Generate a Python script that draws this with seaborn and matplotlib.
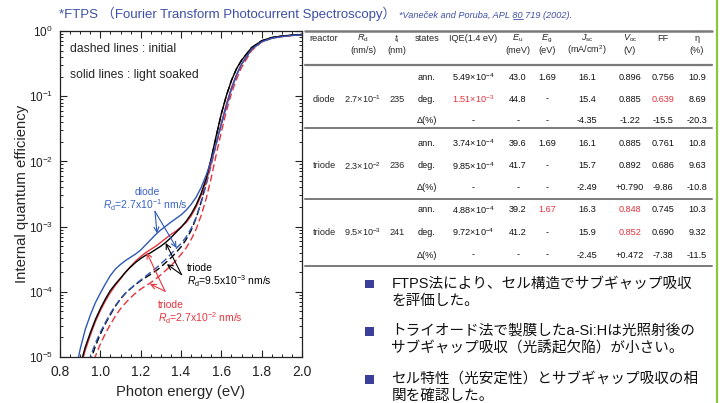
import matplotlib
matplotlib.use("Agg")
import matplotlib.pyplot as plt
import seaborn as sns
from matplotlib.ticker import LogLocator, MultipleLocator, NullFormatter
from matplotlib.patches import Rectangle
from matplotlib.lines import Line2D

# ---------------- data: IQE spectra ----------------
energy = [0.850, 0.875, 0.900, 0.925, 0.950, 0.975, 1.000, 1.025, 1.050, 1.075,
          1.100, 1.125, 1.150, 1.175, 1.200, 1.225, 1.250, 1.275, 1.300, 1.325,
          1.350, 1.375, 1.400, 1.425, 1.450, 1.475, 1.500, 1.525, 1.550, 1.575,
          1.600, 1.625, 1.650, 1.675, 1.700, 1.750, 1.800, 1.850, 1.900, 1.950, 2.000]

# diode, Rd = 2.7e-1 nm/s
diode_soaked = [2.51e-6, 5.62e-6, 1.32e-5, 2.63e-5, 4.37e-5, 6.76e-5, 9.55e-5, 1.32e-4, 1.78e-4, 2.24e-4,
                2.63e-4, 3.02e-4, 3.39e-4, 3.80e-4, 4.37e-4, 5.25e-4, 6.31e-4, 7.59e-4, 8.91e-4, 1.02e-3,
                1.17e-3, 1.33e-3, 1.51e-3, 1.78e-3, 2.19e-3, 2.82e-3, 3.98e-3, 6.17e-3, 1.02e-2, 1.91e-2,
                3.72e-2, 7.08e-2, 0.129, 0.209, 0.309, 0.525, 0.684, 0.776, 0.822, 0.855, 0.875]
diode_initial_energy = energy[2:]
diode_initial = [2.00e-6, 4.68e-6, 1.00e-5, 1.62e-5, 2.40e-5, 3.39e-5, 4.68e-5, 6.17e-5, 7.76e-5, 9.55e-5,
                 1.12e-4, 1.32e-4, 1.51e-4, 1.74e-4, 2.00e-4, 2.29e-4, 2.69e-4, 3.16e-4, 3.80e-4, 4.57e-4,
                 5.49e-4, 6.92e-4, 9.33e-4, 1.38e-3, 2.34e-3, 4.37e-3, 8.91e-3, 1.82e-2, 3.63e-2, 7.08e-2,
                 0.129, 0.209, 0.309, 0.525, 0.684, 0.776, 0.822, 0.855, 0.875]

# triode, Rd = 2.3e-2 nm/s (red)
triodeA_soaked = [1.26e-6, 2.82e-6, 6.61e-6, 1.26e-5, 2.14e-5, 3.47e-5, 5.13e-5, 7.24e-5, 9.77e-5, 1.26e-4,
                  1.58e-4, 2.00e-4, 2.45e-4, 2.95e-4, 3.47e-4, 3.98e-4, 4.47e-4, 5.01e-4, 5.75e-4, 6.61e-4,
                  7.59e-4, 8.51e-4, 9.85e-4, 1.15e-3, 1.45e-3, 2.00e-3, 3.02e-3, 5.01e-3, 9.33e-3, 1.91e-2,
                  3.89e-2, 7.59e-2, 0.135, 0.214, 0.309, 0.525, 0.687, 0.780, 0.826, 0.857, 0.877]
triodeA_initial_energy = energy[3:]
triodeA_initial = [3.16e-6, 5.62e-6, 1.02e-5, 1.58e-5, 2.29e-5, 3.16e-5, 4.27e-5, 5.50e-5, 6.76e-5, 8.13e-5,
                   9.55e-5, 1.10e-4, 1.23e-4, 1.38e-4, 1.58e-4, 1.82e-4, 2.14e-4, 2.51e-4, 3.02e-4, 3.74e-4,
                   4.68e-4, 6.31e-4, 9.12e-4, 1.48e-3, 2.69e-3, 5.62e-3, 1.29e-2, 2.82e-2, 5.89e-2, 0.110,
                   0.182, 0.275, 0.501, 0.676, 0.771, 0.818, 0.851, 0.871]

# triode, Rd = 9.5e-3 nm/s (black)
triodeB_soaked = [1.41e-6, 3.16e-6, 7.41e-6, 1.41e-5, 2.34e-5, 3.72e-5, 5.50e-5, 7.76e-5, 1.05e-4, 1.32e-4,
                  1.62e-4, 2.00e-4, 2.40e-4, 2.82e-4, 3.24e-4, 3.63e-4, 3.98e-4, 4.47e-4, 5.01e-4, 5.75e-4,
                  6.76e-4, 8.13e-4, 9.72e-4, 1.20e-3, 1.55e-3, 2.14e-3, 3.24e-3, 5.50e-3, 1.12e-2, 2.51e-2,
                  5.37e-2, 0.102, 0.174, 0.263, 0.355, 0.556, 0.708, 0.794, 0.838, 0.865, 0.885]
triodeB_initial_energy = energy[2:]
triodeB_initial = [1.58e-6, 3.72e-6, 8.51e-6, 1.45e-5, 2.24e-5, 3.24e-5, 4.47e-5, 6.03e-5, 7.76e-5, 9.55e-5,
                   1.12e-4, 1.29e-4, 1.48e-4, 1.66e-4, 1.86e-4, 2.09e-4, 2.40e-4, 2.82e-4, 3.31e-4, 3.98e-4,
                   4.88e-4, 6.31e-4, 8.71e-4, 1.35e-3, 2.40e-3, 4.79e-3, 1.07e-2, 2.45e-2, 5.37e-2, 0.102,
                   0.174, 0.263, 0.355, 0.556, 0.708, 0.794, 0.838, 0.865, 0.885]

x_ticks = [0.8, 1.0, 1.2, 1.4, 1.6, 1.8, 2.0]

# ---------------- data: table ----------------
table_header1 = ["reactor", r"$R_{\rm d}$", r"$t_{\rm i}$", "states", "IQE(1.4 eV)", r"$E_{\rm u}$",
                 r"$E_{\rm g}$", r"$J_{\rm sc}$", r"$V_{\rm oc}$", "FF", "η"]
table_header2 = ["", "(nm/s)", "(nm)", "", "", "(meV)", "(eV)", r"(mA/cm$^{2}$)", "(V)", "", "(%)"]
reactors = ["diode", "triode", "triode"]
rd_values = [r"2.7×10$^{-1}$", r"2.3×10$^{-2}$", r"9.5×10$^{-3}$"]
ti_values = ["235", "236", "241"]
states = ["ann.", "deg.", "Δ(%)"]
iqe_values = [[r"5.49×10$^{-4}$", r"1.51×10$^{-3}$", "-"],
              [r"3.74×10$^{-4}$", r"9.85×10$^{-4}$", "-"],
              [r"4.88×10$^{-4}$", r"9.72×10$^{-4}$", "-"]]
eu_values = [["43.0", "44.8", "-"], ["39.6", "41.7", "-"], ["39.2", "41.2", "-"]]
eg_values = [["1.69", "-", "-"], ["1.69", "-", "-"], ["1.67", "-", "-"]]
jsc_values = [["16.1", "15.4", "-4.35"], ["16.1", "15.7", "-2.49"], ["16.3", "15.9", "-2.45"]]
voc_values = [["0.896", "0.885", "-1.22"], ["0.885", "0.892", "+0.790"], ["0.848", "0.852", "+0.472"]]
ff_values = [["0.756", "0.639", "-15.5"], ["0.761", "0.686", "-9.86"], ["0.745", "0.690", "-7.38"]]
eta_values = [["10.9", "8.69", "-20.3"], ["10.8", "9.63", "-10.8"], ["10.3", "9.32", "-11.5"]]

bullets = [["FTPS法により、セル構造でサブギャップ吸収", "を評価した。"],
           ["トライオード法で製膜したa-Si:Hは光照射後の", "サブギャップ吸収（光誘起欠陥）が小さい。"],
           ["セル特性（光安定性）とサブギャップ吸収の相", "関を確認した。"]]

title_text = "*FTPS （Fourier Transform Photocurrent Spectroscopy）"
cite_pre, cite_vol, cite_post = "*Vaneček and Poruba, APL ", "80", " 719 (2002)."

# ---------------- style ----------------
sns.set_style("ticks")
plt.rcParams["font.family"] = ["Liberation Sans", "Noto Sans CJK JP", "DejaVu Sans"]
plt.rcParams["mathtext.fontset"] = "custom"
plt.rcParams["mathtext.rm"] = "Liberation Sans"
plt.rcParams["mathtext.it"] = "Liberation Sans:italic"
plt.rcParams["mathtext.bf"] = "Liberation Sans:bold"

BLUE = "#2f57b8"
RED = "#e8333c"
BLACK = "#000000"
BLUE_T = "#3a62c4"
TITLE_C = "#3d4fa5"

W, H = 726, 403
fig = plt.figure(figsize=(W / 100, H / 100), dpi=100)
fig.patch.set_facecolor("white")

ax = fig.add_axes([60 / W, 1 - 357 / H, 242 / W, 326 / H])
ax.set_yscale("log")

dash = (0, (5, 2.5))
curves = [
    (triodeA_initial_energy, triodeA_initial, RED, dash),
    (triodeB_initial_energy, triodeB_initial, BLACK, dash),
    (diode_initial_energy, diode_initial, BLUE, dash),
    (energy, triodeA_soaked, RED, "-"),
    (energy, triodeB_soaked, BLACK, "-"),
    (energy, diode_soaked, BLUE, "-"),
]
for xs, ys, col, ls in curves:
    sns.lineplot(x=xs, y=ys, ax=ax, color=col, linestyle=ls, linewidth=1.0,
                 sort=False, estimator=None)

ax.set_xlim(0.8, 2.0)
ax.set_ylim(1e-5, 1.0)
ax.set_xticks(x_ticks)
ax.set_xticklabels([f"{v:.1f}" for v in x_ticks])
ax.xaxis.set_minor_locator(MultipleLocator(0.05))
ax.yaxis.set_major_locator(LogLocator(base=10, numticks=10))
ax.yaxis.set_minor_locator(LogLocator(base=10, subs=[2, 3, 4, 5, 6, 7, 8, 9], numticks=20))
ax.yaxis.set_minor_formatter(NullFormatter())
ax.tick_params(which="both", direction="in", top=True, right=True, colors="#222222")
ax.tick_params(which="major", length=5, width=0.8)
ax.tick_params(which="minor", length=2.5, width=0.7)
ax.tick_params(axis="x", labelsize=10, pad=6)
ax.tick_params(axis="y", labelsize=8.5, pad=5)
for s in ax.spines.values():
    s.set_linewidth(0.9)
    s.set_color("#222222")

ax.set_xlabel("Photon energy (eV)", fontsize=10.7)
ax.set_ylabel("Internal quantum efficiency", fontsize=10.7)
ax.xaxis.set_label_coords(0.5, -0.085)
ax.yaxis.set_label_coords(-0.13, 0.5)

ax.text(0.041, 0.945, "dashed lines : initial", transform=ax.transAxes, fontsize=8.7, va="center")
ax.text(0.041, 0.865, "solid lines : light soaked", transform=ax.transAxes, fontsize=8.7, va="center")

# annotations
fs_a = 7.5
ax.text(1.231, 3.4e-3, "diode", color=BLUE_T, fontsize=fs_a, ha="center", va="center")
ax.text(1.221, 2.1e-3, r"$R_{\rm d}$=2.7x10$^{-1}$ nm/s", color=BLUE_T, fontsize=fs_a, ha="center", va="center")
ax.text(1.428, 2.3e-4, "triode", color=BLACK, fontsize=fs_a, ha="left", va="center")
ax.text(1.428, 1.43e-4, r"$R_{\rm d}$=9.5x10$^{-3}$ nm/s", color=BLACK, fontsize=fs_a, ha="left", va="center")
ax.text(1.286, 6.3e-5, "triode", color=RED, fontsize=fs_a, ha="left", va="center")
ax.text(1.286, 4.0e-5, r"$R_{\rm d}$=2.7x10$^{-2}$ nm/s", color=RED, fontsize=fs_a, ha="left", va="center")

def arrow(start, tip, col):
    ax.annotate("", xy=tip, xytext=start,
                arrowprops=dict(arrowstyle="->", color=col, lw=0.8, shrinkA=0, shrinkB=0,
                                mutation_scale=9))

arrow((1.271, 1.71e-3), (1.281, 7.9e-4), BLUE)
arrow((1.271, 1.71e-3), (1.378, 4.7e-4), BLUE)
arrow((1.403, 1.83e-4), (1.324, 5.6e-4), BLACK)
arrow((1.403, 1.83e-4), (1.330, 2.65e-4), BLACK)
arrow((1.321, 1.02e-4), (1.230, 4.0e-4), RED)
arrow((1.321, 1.02e-4), (1.246, 1.32e-4), RED)

# ---------------- overlay (pixel coordinates) ----------------
ov = fig.add_axes([0, 0, 1, 1])
ov.set_xlim(0, W)
ov.set_ylim(H, 0)
ov.set_axis_off()
ov.patch.set_alpha(0)

ov.text(59, 14, title_text, color=TITLE_C, fontsize=9.5, va="center", ha="left")
cite_fs = 6.6
cite_x, cite_y = 399, 17.5
ov.text(cite_x, cite_y, cite_pre + cite_vol + cite_post, color=TITLE_C, fontsize=cite_fs,
        style="italic", va="baseline", ha="left")

# green side rule
ov.add_line(Line2D([716.5, 716.5], [0, H], color="#8cc63e", lw=1.6))

# table
col_x = [324, 363, 397, 427, 473, 518, 547, 587, 630, 663, 697]
tfs = 6.6
GRAY = "#7a7a7a"
for y, lw in [(31, 1.8), (64.5, 1.6), (128.3, 1.4), (199, 1.4), (266, 1.4)]:
    ov.add_line(Line2D([305, 712], [y, y], color=GRAY, lw=lw))
for x, h1, h2 in zip(col_x, table_header1, table_header2):
    ov.text(x, 38.5, h1, fontsize=tfs, ha="center", va="center")
    if h2:
        ov.text(x, 50.5, h2, fontsize=tfs, ha="center", va="center")

block_rows = [[77, 99, 120.5], [143.3, 165.7, 187.7], [210, 232.3, 255]]
highlights = {(0, 1, 4), (0, 1, 9), (2, 0, 6), (2, 0, 8), (2, 1, 8)}
for b in range(3):
    ys = block_rows[b]
    ov.text(col_x[0], ys[1], reactors[b], fontsize=tfs, ha="center", va="center")
    ov.text(col_x[1], ys[1], rd_values[b], fontsize=tfs, ha="center", va="center")
    ov.text(col_x[2], ys[1], ti_values[b], fontsize=tfs, ha="center", va="center")
    for r in range(3):
        cells = [states[r], iqe_values[b][r], eu_values[b][r], eg_values[b][r], jsc_values[b][r],
                 voc_values[b][r], ff_values[b][r], eta_values[b][r]]
        for k, txt in enumerate(cells):
            ci = k + 3
            col = RED if (b, r, ci) in highlights else "#111111"
            ov.text(col_x[ci], ys[r], txt, fontsize=tfs, ha="center", va="center", color=col)

# bullets
bullet_y = [[283.5, 300.5], [331, 348], [379, 396]]
for lines, ys in zip(bullets, bullet_y):
    ov.add_patch(Rectangle((365, ys[0] - 4), 8.5, 8.5, color="#3b3f99", lw=0))
    for ln, y in zip(lines, ys):
        ov.text(391.5, y, ln, fontsize=10.5, ha="left", va="center", color="#111111")

# underline for the volume number of the citation
fig.canvas.draw()
rend = fig.canvas.get_renderer()
tmp1 = ov.text(cite_x, cite_y, cite_pre, fontsize=cite_fs, style="italic", va="baseline", ha="left")
tmp2 = ov.text(cite_x, cite_y, cite_pre + cite_vol, fontsize=cite_fs, style="italic", va="baseline", ha="left")
e1 = tmp1.get_window_extent(rend)
e2 = tmp2.get_window_extent(rend)
tmp1.remove()
tmp2.remove()
inv = ov.transData.inverted()
x0 = inv.transform((e1.x1, 0))[0]
x1 = inv.transform((e2.x1, 0))[0]
ov.add_line(Line2D([x0 + 0.3, x1], [cite_y + 1.5, cite_y + 1.5], color=TITLE_C, lw=0.6))

fig.savefig("out.png", dpi=100)
